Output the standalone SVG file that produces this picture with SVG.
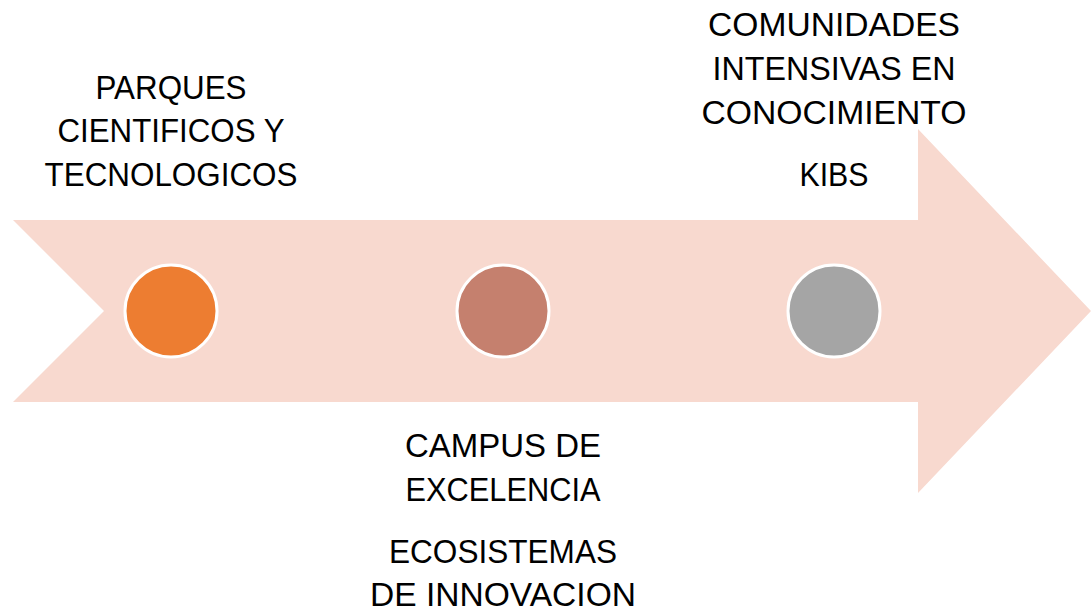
<svg xmlns="http://www.w3.org/2000/svg" width="1091" height="611" viewBox="0 0 1091 611">
<style>
.lbl{font-family:"Liberation Sans",Arial,sans-serif;font-size:33px;fill:#000;text-anchor:middle}
.dot{stroke:#fff;stroke-width:3}
</style>
<rect width="1091" height="611" fill="#fff"/>
<g id="arrow">
<polygon points="13,220 918,220 918,129 1091,311 918,493 918,402 13,402 104,311" fill="#F8D9CF"/>
</g>
<g id="connectors"></g>
<g id="node1">
<circle class="dot" cx="171" cy="311" r="46" fill="#ED7D31"/>
<text class="lbl" x="171" y="99" textLength="151" lengthAdjust="spacingAndGlyphs">PARQUES</text>
<text class="lbl" x="171" y="142" textLength="227" lengthAdjust="spacingAndGlyphs">CIENTIFICOS Y</text>
<text class="lbl" x="171" y="186" textLength="253" lengthAdjust="spacingAndGlyphs">TECNOLOGICOS</text>
</g>
<g id="node2">
<circle class="dot" cx="503" cy="311" r="46" fill="#C5806E"/>
<text class="lbl" x="503" y="457" textLength="196" lengthAdjust="spacingAndGlyphs">CAMPUS DE</text>
<text class="lbl" x="503" y="501" textLength="195" lengthAdjust="spacingAndGlyphs">EXCELENCIA</text>
<text class="lbl" x="503" y="563" textLength="228" lengthAdjust="spacingAndGlyphs">ECOSISTEMAS</text>
<text class="lbl" x="503" y="606" textLength="266" lengthAdjust="spacingAndGlyphs">DE INNOVACION</text>
</g>
<g id="node3">
<circle class="dot" cx="834" cy="311" r="46" fill="#A5A5A5"/>
<text class="lbl" x="834" y="36" textLength="252" lengthAdjust="spacingAndGlyphs">COMUNIDADES</text>
<text class="lbl" x="834" y="80" textLength="243" lengthAdjust="spacingAndGlyphs">INTENSIVAS EN</text>
<text class="lbl" x="834" y="124" textLength="265" lengthAdjust="spacingAndGlyphs">CONOCIMIENTO</text>
<text class="lbl" x="834" y="186" textLength="69" lengthAdjust="spacingAndGlyphs">KIBS</text>
</g>
</svg>
